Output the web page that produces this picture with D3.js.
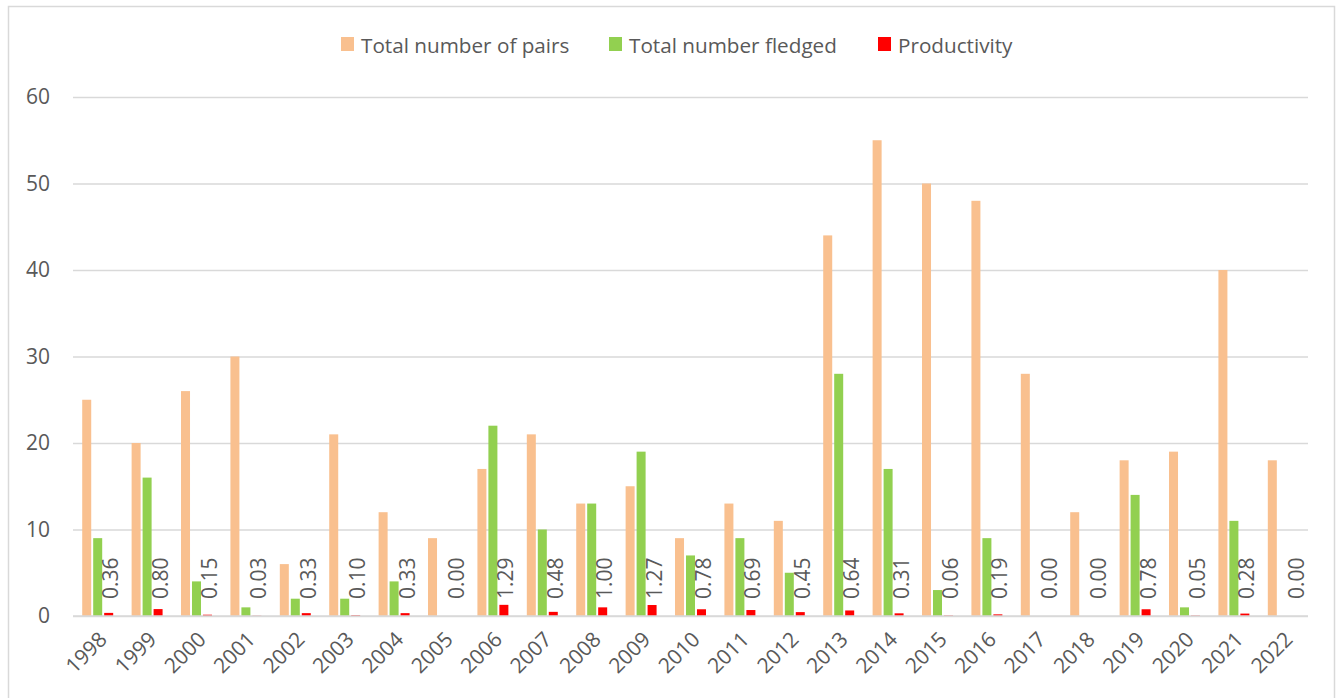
<!DOCTYPE html>
<html>
<head>
<meta charset="utf-8">
<script src="https://cdn.jsdelivr.net/npm/d3@7"></script>
<style>
  html, body { margin: 0; padding: 0; background: #fff; }
  svg text { font-family: "Open Sans", sans-serif; fill: #595959; }
</style>
</head>
<body>
<script>
const years = ['1998', '1999', '2000', '2001', '2002', '2003', '2004', '2005', '2006', '2007',
  '2008', '2009', '2010', '2011', '2012', '2013', '2014', '2015', '2016', '2017',
  '2018', '2019', '2020', '2021', '2022'];
const pairs = [25, 20, 26, 30, 6, 21, 12, 9, 17, 21, 13, 15, 9, 13, 11, 44, 55, 50, 48, 28, 12, 18, 19, 40, 18];
const fledged = [9, 16, 4, 1, 2, 2, 4, 0, 22, 10, 13, 19, 7, 9, 5, 28, 17, 3, 9, 0, 0, 14, 1, 11, 0];
const productivity = [0.36, 0.80, 0.15, 0.03, 0.33, 0.10, 0.33, 0.00, 1.29, 0.48, 1.00, 1.27, 0.78, 0.69,
  0.45, 0.64, 0.31, 0.06, 0.19, 0.00, 0.00, 0.78, 0.05, 0.28, 0.00];
const seriesNames = ['Total number of pairs', 'Total number fledged', 'Productivity'];
const yTicks = [0, 10, 20, 30, 40, 50, 60];

const colors = ['#f9c08f', '#92d050', '#ff0000'];
const seriesValues = [pairs, fledged, productivity];

const width = 1336;
const height = 698;
const marginLeft = 73;
const marginRight = 28;
const yTop = 97;
const yBottom = 616;

const svg = d3.select('body').append('svg')
  .attr('width', width)
  .attr('height', height)
  .attr('viewBox', [0, 0, width, height]);

// chart border
svg.append('rect')
  .attr('x', 8.5).attr('y', 6.5)
  .attr('width', 1326).attr('height', 710)
  .attr('fill', '#fff')
  .attr('stroke', '#d9d9d9')
  .attr('stroke-width', 1.5);

const x0 = d3.scaleBand()
  .domain(years)
  .range([marginLeft, width - marginRight])
  .paddingInner(0.373)
  .paddingOuter(0.1865);

const x1 = d3.scaleBand()
  .domain(d3.range(seriesNames.length))
  .range([0, x0.bandwidth()])
  .paddingInner(0.18);

const y = d3.scaleLinear()
  .domain([0, 60])
  .range([yBottom, yTop]);

// gridlines + y labels
const gY = svg.append('g')
  .attr('transform', `translate(${marginLeft},0)`)
  .call(d3.axisLeft(y).tickValues(yTicks).tickSize(-(width - marginRight - marginLeft)).tickPadding(23))
  .call((g) => g.select('.domain').remove());
gY.selectAll('.tick line').attr('stroke', '#d9d9d9').attr('stroke-width', 1.5);
gY.selectAll('.tick text').attr('font-size', 21).attr('font-family', '"Open Sans", sans-serif').style('fill', '#595959');

// bars
const rows = years.map((yr, i) => ({ year: yr, values: seriesValues.map((s) => s[i]) }));

const groups = svg.append('g')
  .selectAll('g')
  .data(rows)
  .join('g')
  .attr('transform', (d) => `translate(${x0(d.year)},0)`);

groups.selectAll('rect')
  .data((d) => d.values.map((v, k) => ({ v, k })))
  .join('rect')
  .attr('x', (d) => x1(d.k))
  .attr('y', (d) => y(d.v))
  .attr('width', x1.bandwidth())
  .attr('height', (d) => y(0) - y(d.v))
  .attr('fill', (d) => colors[d.k]);

// productivity data labels (inside base, rotated)
groups.append('text')
  .attr('transform', () => `translate(${x1(2) + x1.bandwidth() / 2 + 1.5},${yBottom - 17}) rotate(-90)`)
  .attr('dominant-baseline', 'central')
  .attr('font-size', 21)
  .text((d) => d.values[2].toFixed(2));

// zero line
svg.append('line')
  .attr('x1', marginLeft).attr('x2', width - marginRight)
  .attr('y1', y(0)).attr('y2', y(0))
  .attr('stroke', '#d9d9d9').attr('stroke-width', 1.5);

// x axis labels
svg.append('g')
  .selectAll('text')
  .data(years)
  .join('text')
  .attr('transform', (d) => `translate(${x0(d) + x0.bandwidth() / 2 + 5},${yBottom + 19}) rotate(-45)`)
  .attr('text-anchor', 'end')
  .attr('dominant-baseline', 'central')
  .attr('font-size', 21)
  .text((d) => d);

// legend
const legendX = [341, 609, 878];
const legend = svg.append('g')
  .selectAll('g')
  .data(seriesNames)
  .join('g')
  .attr('transform', (d, i) => `translate(${legendX[i]},37)`);
legend.append('rect')
  .attr('width', 13).attr('height', 14)
  .attr('fill', (d, i) => colors[i]);
legend.append('text')
  .attr('x', 20).attr('y', 7.5)
  .attr('dominant-baseline', 'central')
  .attr('font-size', 20.7)
  .text((d) => d);
</script>
</body>
</html>
